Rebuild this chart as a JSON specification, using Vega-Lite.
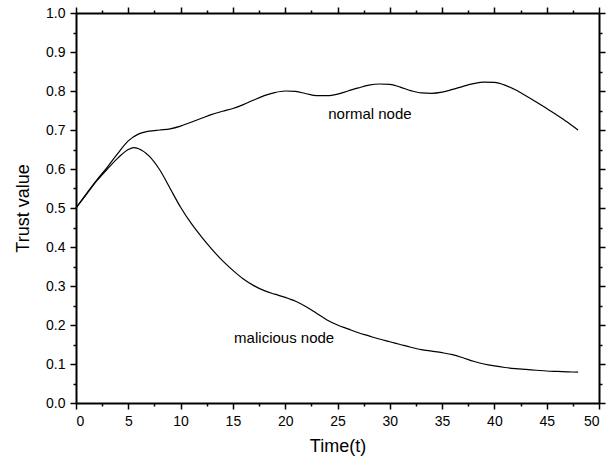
{
  "$schema": "https://vega.github.io/schema/vega-lite/v6.json",
  "width": 523,
  "height": 390,
  "autosize": {"type": "none"},
  "padding": {"left": 76, "top": 13, "right": 16, "bottom": 56},
  "background": "white",
  "config": {
    "view": {"stroke": null},
    "font": "Liberation Sans",
    "axis": {
      "grid": false,
      "domainColor": "black",
      "domainWidth": 2,
      "tickColor": "black",
      "tickWidth": 1.5,
      "labelColor": "black",
      "titleColor": "black",
      "labelFont": "Liberation Sans",
      "titleFont": "Liberation Sans",
      "labelFontSize": 14,
      "titleFontSize": 18,
      "titleFontWeight": "normal"
    }
  },
  "datasets": {
    "series": [
      {"t": 0, "v": 0.5, "node": "normal"}, {"t": 1, "v": 0.537, "node": "normal"}, {"t": 2, "v": 0.572, "node": "normal"}, {"t": 3, "v": 0.605, "node": "normal"}, {"t": 4, "v": 0.64, "node": "normal"}, {"t": 5, "v": 0.672, "node": "normal"}, {"t": 6, "v": 0.69, "node": "normal"}, {"t": 7, "v": 0.697, "node": "normal"}, {"t": 8, "v": 0.7, "node": "normal"}, {"t": 9, "v": 0.703, "node": "normal"}, {"t": 10, "v": 0.71, "node": "normal"}, {"t": 11, "v": 0.72, "node": "normal"}, {"t": 12, "v": 0.73, "node": "normal"}, {"t": 13, "v": 0.74, "node": "normal"}, {"t": 14, "v": 0.748, "node": "normal"}, {"t": 15, "v": 0.755, "node": "normal"}, {"t": 16, "v": 0.765, "node": "normal"}, {"t": 17, "v": 0.777, "node": "normal"}, {"t": 18, "v": 0.788, "node": "normal"}, {"t": 19, "v": 0.796, "node": "normal"}, {"t": 20, "v": 0.8, "node": "normal"}, {"t": 21, "v": 0.799, "node": "normal"}, {"t": 22, "v": 0.793, "node": "normal"}, {"t": 23, "v": 0.788, "node": "normal"}, {"t": 24, "v": 0.788, "node": "normal"}, {"t": 25, "v": 0.792, "node": "normal"}, {"t": 26, "v": 0.8, "node": "normal"}, {"t": 27, "v": 0.808, "node": "normal"}, {"t": 28, "v": 0.815, "node": "normal"}, {"t": 29, "v": 0.818, "node": "normal"}, {"t": 30, "v": 0.817, "node": "normal"}, {"t": 31, "v": 0.81, "node": "normal"}, {"t": 32, "v": 0.801, "node": "normal"}, {"t": 33, "v": 0.795, "node": "normal"}, {"t": 34, "v": 0.794, "node": "normal"}, {"t": 35, "v": 0.797, "node": "normal"}, {"t": 36, "v": 0.804, "node": "normal"}, {"t": 37, "v": 0.812, "node": "normal"}, {"t": 38, "v": 0.819, "node": "normal"}, {"t": 39, "v": 0.823, "node": "normal"}, {"t": 40, "v": 0.822, "node": "normal"}, {"t": 41, "v": 0.815, "node": "normal"}, {"t": 42, "v": 0.803, "node": "normal"}, {"t": 43, "v": 0.788, "node": "normal"}, {"t": 44, "v": 0.772, "node": "normal"}, {"t": 45, "v": 0.755, "node": "normal"}, {"t": 46, "v": 0.738, "node": "normal"}, {"t": 47, "v": 0.72, "node": "normal"}, {"t": 48, "v": 0.7, "node": "normal"},
      {"t": 0, "v": 0.5, "node": "malicious"}, {"t": 1, "v": 0.535, "node": "malicious"}, {"t": 2, "v": 0.57, "node": "malicious"}, {"t": 3, "v": 0.6, "node": "malicious"}, {"t": 4, "v": 0.628, "node": "malicious"}, {"t": 5, "v": 0.65, "node": "malicious"}, {"t": 5.5, "v": 0.655, "node": "malicious"}, {"t": 6, "v": 0.652, "node": "malicious"}, {"t": 7, "v": 0.633, "node": "malicious"}, {"t": 8, "v": 0.598, "node": "malicious"}, {"t": 9, "v": 0.55, "node": "malicious"}, {"t": 10, "v": 0.502, "node": "malicious"}, {"t": 11, "v": 0.461, "node": "malicious"}, {"t": 12, "v": 0.426, "node": "malicious"}, {"t": 13, "v": 0.394, "node": "malicious"}, {"t": 14, "v": 0.365, "node": "malicious"}, {"t": 15, "v": 0.34, "node": "malicious"}, {"t": 16, "v": 0.318, "node": "malicious"}, {"t": 17, "v": 0.301, "node": "malicious"}, {"t": 18, "v": 0.288, "node": "malicious"}, {"t": 19, "v": 0.279, "node": "malicious"}, {"t": 20, "v": 0.271, "node": "malicious"}, {"t": 21, "v": 0.261, "node": "malicious"}, {"t": 22, "v": 0.247, "node": "malicious"}, {"t": 23, "v": 0.23, "node": "malicious"}, {"t": 24, "v": 0.213, "node": "malicious"}, {"t": 25, "v": 0.2, "node": "malicious"}, {"t": 26, "v": 0.19, "node": "malicious"}, {"t": 27, "v": 0.18, "node": "malicious"}, {"t": 28, "v": 0.172, "node": "malicious"}, {"t": 29, "v": 0.164, "node": "malicious"}, {"t": 30, "v": 0.157, "node": "malicious"}, {"t": 31, "v": 0.15, "node": "malicious"}, {"t": 32, "v": 0.143, "node": "malicious"}, {"t": 33, "v": 0.137, "node": "malicious"}, {"t": 34, "v": 0.133, "node": "malicious"}, {"t": 35, "v": 0.129, "node": "malicious"}, {"t": 36, "v": 0.124, "node": "malicious"}, {"t": 37, "v": 0.116, "node": "malicious"}, {"t": 38, "v": 0.107, "node": "malicious"}, {"t": 39, "v": 0.1, "node": "malicious"}, {"t": 40, "v": 0.095, "node": "malicious"}, {"t": 41, "v": 0.091, "node": "malicious"}, {"t": 42, "v": 0.088, "node": "malicious"}, {"t": 43, "v": 0.086, "node": "malicious"}, {"t": 44, "v": 0.084, "node": "malicious"}, {"t": 45, "v": 0.082, "node": "malicious"}, {"t": 46, "v": 0.081, "node": "malicious"}, {"t": 47, "v": 0.08, "node": "malicious"}, {"t": 48, "v": 0.079, "node": "malicious"}
    ],
    "labels": [
      {"t": 28.1, "v": 0.741, "label": "normal node"},
      {"t": 19.9, "v": 0.167, "label": "malicious node"}
    ]
  },
  "resolve": {"axis": {"x": "independent", "y": "independent"}},
  "layer": [
    {
      "data": {"name": "series"},
      "mark": {"type": "line", "interpolate": "monotone", "color": "black", "strokeWidth": 1.2},
      "encoding": {
        "x": {"field": "t", "type": "quantitative", "scale": {"domain": [0, 50], "nice": false},
              "axis": {"orient": "bottom", "title": "Time(t)", "values": [0,5,10,15,20,25,30,35,40,45,50], "tickSize": 6, "labelPadding": 5, "titlePadding": 9}},
        "y": {"field": "v", "type": "quantitative", "scale": {"domain": [0, 1], "nice": false},
              "axis": {"orient": "left", "title": "Trust value", "values": [0,0.1,0.2,0.3,0.4,0.5,0.6,0.7,0.8,0.9,1.0], "format": ".1f", "tickSize": 6, "labelPadding": 5, "titlePadding": 13}},
        "detail": {"field": "node"}
      }
    },
    {
      "data": {"name": "series"},
      "mark": {"type": "line", "strokeOpacity": 0},
      "encoding": {
        "x": {"field": "t", "type": "quantitative", "axis": {"orient": "top", "title": null, "labels": false, "tickSize": 6, "values": [0,5,10,15,20,25,30,35,40,45,50]}},
        "y": {"field": "v", "type": "quantitative", "axis": {"orient": "right", "title": null, "labels": false, "tickSize": 6, "values": [0,0.1,0.2,0.3,0.4,0.5,0.6,0.7,0.8,0.9,1.0]}},
        "detail": {"field": "node"}
      }
    },
    {
      "data": {"name": "series"},
      "mark": {"type": "line", "strokeOpacity": 0},
      "encoding": {
        "x": {"field": "t", "type": "quantitative", "axis": {"orient": "bottom", "title": null, "labels": false, "domain": false, "tickSize": 3, "values": [2.5,7.5,12.5,17.5,22.5,27.5,32.5,37.5,42.5,47.5]}},
        "y": {"field": "v", "type": "quantitative", "axis": {"orient": "left", "title": null, "labels": false, "domain": false, "tickSize": 3, "values": [0.05,0.15,0.25,0.35,0.45,0.55,0.65,0.75,0.85,0.95]}},
        "detail": {"field": "node"}
      }
    },
    {
      "data": {"name": "series"},
      "mark": {"type": "line", "strokeOpacity": 0},
      "encoding": {
        "x": {"field": "t", "type": "quantitative", "axis": {"orient": "top", "title": null, "labels": false, "domain": false, "tickSize": 3, "values": [2.5,7.5,12.5,17.5,22.5,27.5,32.5,37.5,42.5,47.5]}},
        "y": {"field": "v", "type": "quantitative", "axis": {"orient": "right", "title": null, "labels": false, "domain": false, "tickSize": 3, "values": [0.05,0.15,0.25,0.35,0.45,0.55,0.65,0.75,0.85,0.95]}},
        "detail": {"field": "node"}
      }
    },
    {
      "data": {"name": "labels"},
      "mark": {"type": "text", "font": "Liberation Sans", "fontSize": 15, "color": "black", "align": "center", "baseline": "middle"},
      "encoding": {
        "x": {"field": "t", "type": "quantitative", "axis": null},
        "y": {"field": "v", "type": "quantitative", "axis": null},
        "text": {"field": "label"}
      }
    }
  ]
}
